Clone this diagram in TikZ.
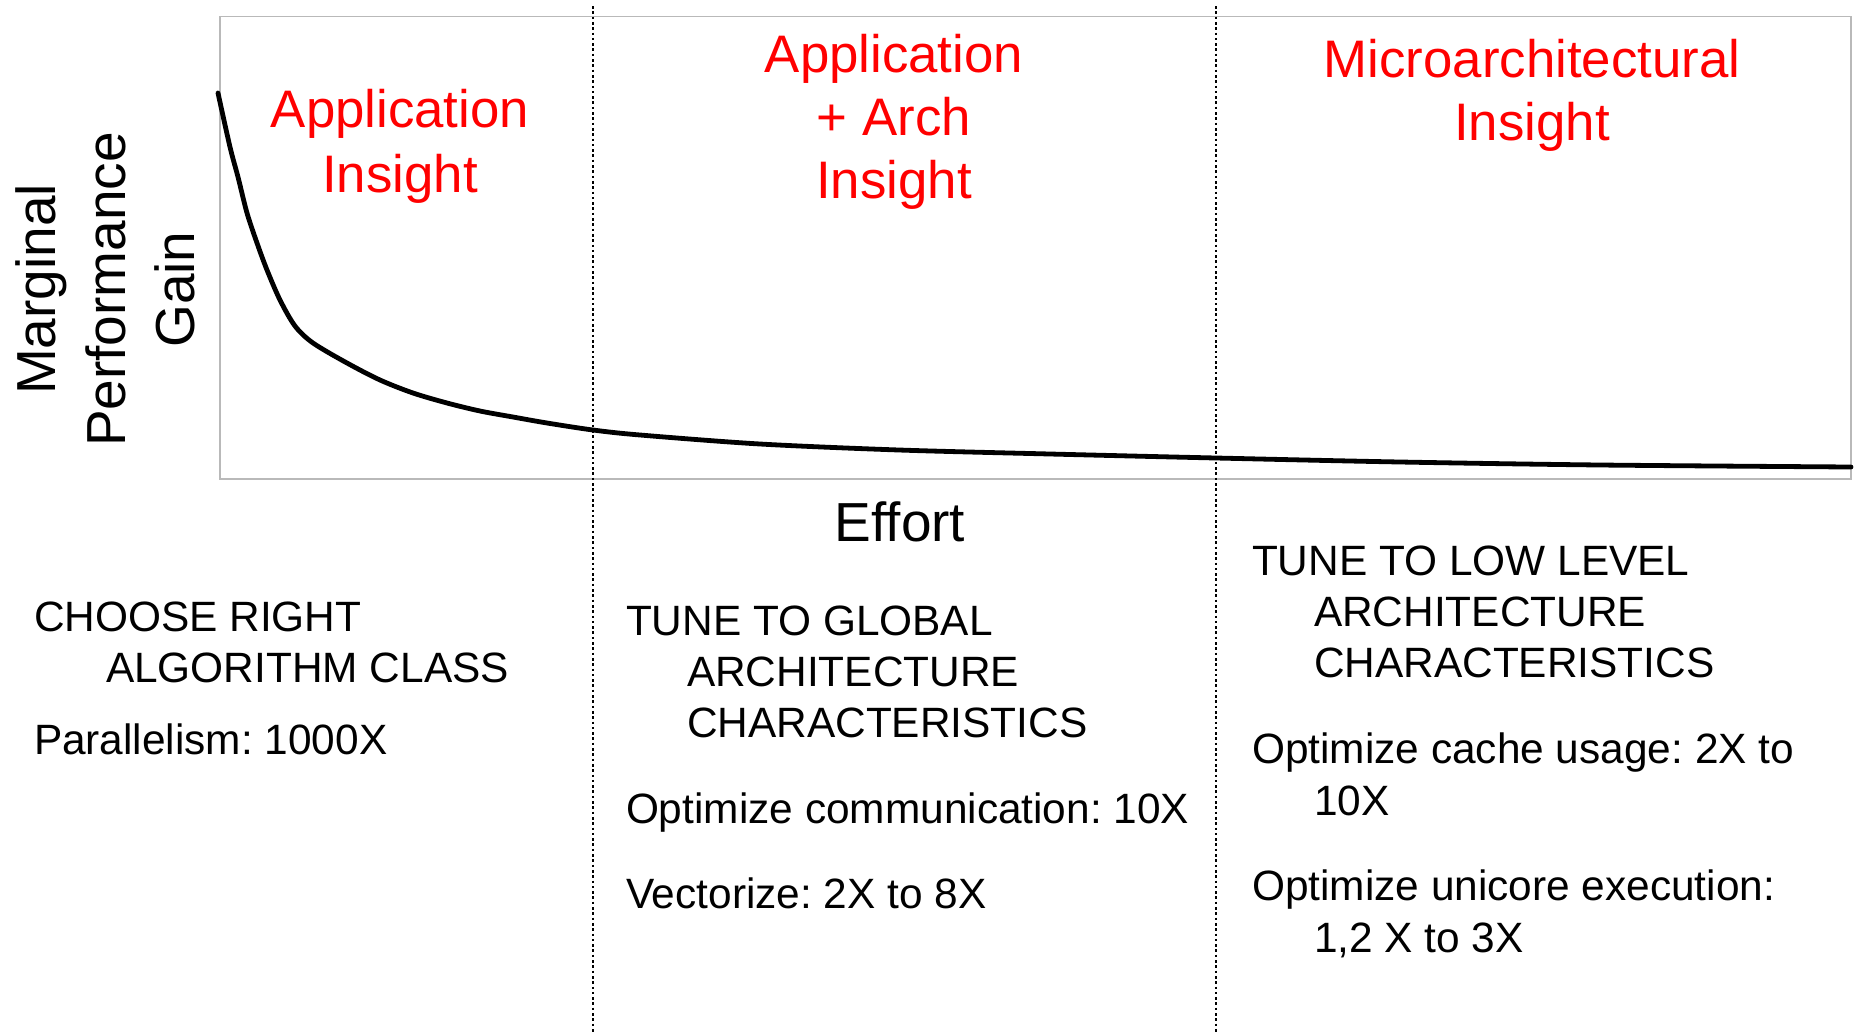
\documentclass[tikz,border=0pt]{standalone}
\usepackage{fontspec}
\setmainfont{Liberation Sans}
\definecolor{boxgray}{RGB}{185,185,185}
\begin{document}
\frenchspacing
\begin{tikzpicture}[x=0.5pt,y=-0.5pt,
  redtxt/.style={text=red, font=\fontsize{26.4}{32}\selectfont, inner sep=0pt, outer sep=0pt, anchor=base},
  bigtxt/.style={font=\fontsize{27.5}{33}\selectfont, inner sep=0pt, outer sep=0pt, anchor=base},
  bodytxt/.style={font=\fontsize{21.2}{25.5}\selectfont, inner sep=0pt, outer sep=0pt, anchor=base west},
  divider/.style={line width=1.4pt, dash pattern=on 1.3pt off 1.35pt},
  frame/.style={draw=boxgray, line width=0.85pt},
  gaincurve/.style={line width=2.4pt, line join=round, line cap=round}]
\useasboundingbox (0,0) rectangle (1855,1033);
% frame of the plot
\draw[frame] (220,16.5) rectangle (1851,479);
% dividers
\coordinate (d1top) at (593,6);
\coordinate (d1bot) at (593,1033);
\coordinate (d2top) at (1216,6);
\coordinate (d2bot) at (1216,1033);
\draw[divider] (d1top) -- (d1bot);
\draw[divider] (d2top) -- (d2bot);
% curve
\draw[gaincurve] plot[smooth, tension=0.5] coordinates {
 (218,93) (230,147) (238,177) (247,213) (257,243) (267,270) (280,300)
 (295,326) (313,343) (347,363) (380,380) (413,393) (447,403) (480,411)
 (513,417) (547,423) (593,430) (640,435) (760,444) (899,450) (1050,454)
 (1216,458) (1400,462) (1600,465) (1851,467)};
% red titles
\node[redtxt] (t1a) at (400,127) {Application};
\node[redtxt] (t1b) at (400,192) {Insight};
\node[redtxt] (t2a) at (894,72) {Application};
\node[redtxt] (t2b) at (894,135) {+ Arch};
\node[redtxt] (t2c) at (894,198) {Insight};
\node[redtxt] (t3a) at (1532,77) {Microarchitectural};
\node[redtxt] (t3b) at (1532,140) {Insight};
% axis labels
\node[bigtxt] (xlab) at (900,541) {Effort};
\node[bigtxt, rotate=90] (ylab1) at (55,289.5) {Marginal};
\node[bigtxt, rotate=90] (ylab2) at (125,289.5) {Performance};
\node[bigtxt, rotate=90] (ylab3) at (194,289.5) {Gain};
% left column
\node[bodytxt] (l1) at (34,631) {CHOOSE RIGHT};
\node[bodytxt] (l2) at (106,682) {ALGORITHM CLASS};
\node[bodytxt] (l3) at (34,754) {Parallelism: 1000X};
% middle column
\node[bodytxt] (m1) at (626,635) {TUNE TO GLOBAL};
\node[bodytxt] (m2) at (687,686) {ARCHITECTURE};
\node[bodytxt] (m3) at (687,737) {CHARACTERISTICS};
\node[bodytxt] (m4) at (626,823) {Optimize communication: 10X};
\node[bodytxt] (m5) at (626,908) {Vectorize: 2X to 8X};
% right column
\node[bodytxt] (r1) at (1252,575) {TUNE TO LOW LEVEL};
\node[bodytxt] (r2) at (1314,626) {ARCHITECTURE};
\node[bodytxt] (r3) at (1314,677) {CHARACTERISTICS};
\node[bodytxt] (r4) at (1252,763) {Optimize cache usage: 2X to};
\node[bodytxt] (r5) at (1314,815) {10X};
\node[bodytxt] (r6) at (1252,900) {Optimize unicore execution:};
\node[bodytxt] (r7) at (1314,952) {1,2 X to 3X};
\end{tikzpicture}
\end{document}
